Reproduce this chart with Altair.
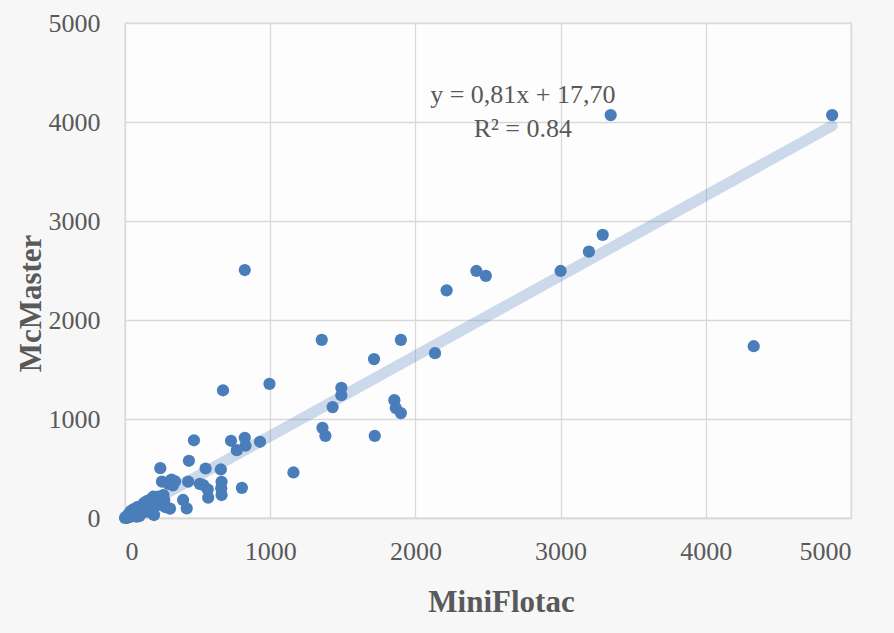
import altair as alt
import pandas as pd

# MiniFlotac (x) and McMaster (y) values
mini = [4870, 3345, 4330, 3290, 3195, 3000, 2420, 2485, 2215, 825,
        2135, 1355, 1900, 1715, 1490, 1490, 1430, 995, 675, 1855,
        1865, 1900, 1360, 1380, 1720, 1160, 805, 930, 825, 830,
        770, 730, 475, 440, 243, 660, 555, 665, 665, 663,
        570, 573, 539, 435, 515, 400, 425, 310, 255, 320,
        345, 300, 330, 265, 230, 195, 172, 218, 138, 103,
        195, 57, 11, 80, 149, 34, 115, 0, 5, 20,
        25, 45, 60, 70, 90, 100, 120, 130, 150, 160,
        180, 190, 200, 210, 240, 250, 270, 280, 170, 40, 85]
mcm = [4070, 4070, 1735, 2860, 2690, 2495, 2495, 2445, 2300, 2505,
       1665, 1800, 1800, 1605, 1315, 1240, 1120, 1355, 1290, 1190,
       1110, 1060, 910, 830, 830, 460, 305, 770, 810, 730,
       685, 780, 785, 578, 503, 490, 500, 365, 232, 300,
       290, 205, 333, 367, 345, 182, 98, 95, 367, 388,
       370, 345, 330, 232, 215, 215, 182, 148, 148, 114,
       47, 64, 0, 13, 81, 30, 47, 0, 10, 5,
       40, 15, 90, 35, 70, 20, 100, 150, 170, 120,
       190, 100, 30, 160, 200, 130, 180, 110, 60, 70, 110]

# trendline reported on the chart: y = 0.81x + 17.70
slope = 0.81
intercept = 17.70
trend_x = [0, 4870]
trend_y = [intercept + slope * v for v in trend_x]

eq_lines = ["y = 0,81x + 17,70", "R² = 0.84"]
eq_x = [2740, 2740]
eq_y = [4192, 3850]

ticks = [0, 1000, 2000, 3000, 4000, 5000]

pts = pd.DataFrame({"MiniFlotac": mini, "McMaster": mcm})
trend = pd.DataFrame({"MiniFlotac": trend_x, "McMaster": trend_y})
eq = pd.DataFrame({"MiniFlotac": eq_x, "McMaster": eq_y, "label": eq_lines})

FONT = "Liberation Serif"
GRAY = "#595959"

xscale = alt.Scale(domain=[0, 5000], nice=False)
yscale = alt.Scale(domain=[0, 5000], nice=False)

xaxis = alt.Axis(values=ticks, format="d", title="MiniFlotac", grid=True, ticks=False,
                 labelPadding=41, labelBaseline="alphabetic",
                 titleX=376, titleY=93, titleBaseline="alphabetic", titleAlign="center")
yaxis = alt.Axis(values=ticks, format="d", title="McMaster", grid=True, ticks=False,
                 labelPadding=25,
                 titleAngle=-90, titleX=-94, titleY=280, titleBaseline="middle",
                 titleAlign="center")

line = alt.Chart(trend).mark_line(
    color="#4a7ebb", opacity=0.28, strokeWidth=11, strokeCap="round", clip=False
).encode(
    x=alt.X("MiniFlotac:Q", scale=xscale, axis=xaxis),
    y=alt.Y("McMaster:Q", scale=yscale, axis=yaxis),
)

points = alt.Chart(pts).mark_circle(
    color="#4a7ebb", opacity=1, size=150, clip=False
).encode(
    x=alt.X("MiniFlotac:Q", scale=xscale),
    y=alt.Y("McMaster:Q", scale=yscale),
)

text = alt.Chart(eq).mark_text(
    font=FONT, fontSize=26, color=GRAY, align="center", baseline="alphabetic"
).encode(
    x=alt.X("MiniFlotac:Q", scale=xscale),
    y=alt.Y("McMaster:Q", scale=yscale),
    text="label:N",
)

chart = (line + points + text).properties(
    width=726, height=495,
    autosize=alt.AutoSizeParams(type="none"),
    padding={"left": 125, "top": 23, "right": 43, "bottom": 115},
    background="#f7f7f7",
).configure_view(
    fill="#fdfdfd", stroke="#d9d9d9", strokeWidth=1.3
).configure_axis(
    labelFont=FONT, labelFontSize=26, labelColor=GRAY,
    titleFont=FONT, titleFontSize=31, titleFontWeight="bold", titleColor=GRAY,
    gridColor="#d9d9d9", gridWidth=1.3, domainColor="#d9d9d9", domainWidth=1.3,
)

chart.save("out.html", embed_options={"renderer": "svg", "actions": False})
